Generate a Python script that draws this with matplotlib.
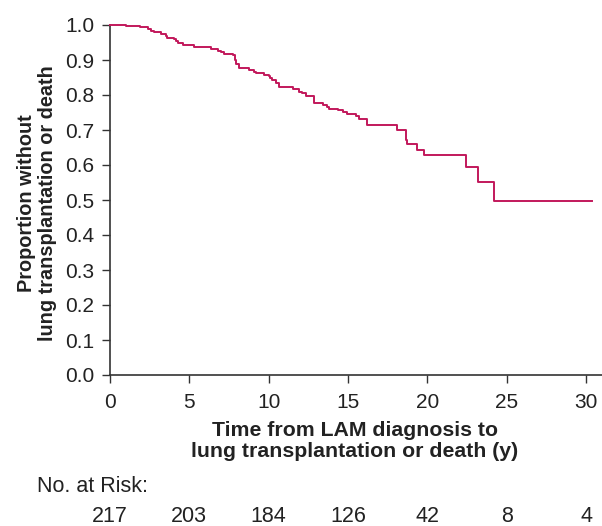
import matplotlib
matplotlib.use("Agg")
import matplotlib.pyplot as plt

plt.rcParams['font.family'] = ['Liberation Sans', 'DejaVu Sans']

# Kaplan-Meier step curve (time in years, survival proportion)
times = [0, 1.02, 1.86, 2.4, 2.6, 2.8, 3.2, 3.5, 3.6, 4.06, 4.16, 4.3, 4.58,
         5.3, 6.36, 6.8, 7.0, 7.2, 7.73, 7.85, 7.95, 8.15, 8.77, 9.1, 9.2,
         9.72, 10.0, 10.1, 10.2, 10.45, 10.66, 11.5, 11.9, 12.1, 12.34, 12.86,
         13.43, 13.7, 13.8, 14.39, 14.67, 14.96, 15.48, 15.7, 16.21, 18.1,
         18.63, 18.7, 19.36, 19.78, 22.4, 23.2, 24.18, 30.4]
surv = [1.0, 0.998, 0.993, 0.988, 0.983, 0.979, 0.974, 0.969, 0.964, 0.960,
        0.954, 0.949, 0.942, 0.937, 0.932, 0.927, 0.923, 0.918, 0.913, 0.900,
        0.889, 0.876, 0.872, 0.867, 0.862, 0.857, 0.853, 0.848, 0.843, 0.834,
        0.822, 0.817, 0.810, 0.805, 0.797, 0.778, 0.772, 0.767, 0.761, 0.756,
        0.751, 0.745, 0.740, 0.732, 0.713, 0.699, 0.672, 0.661, 0.644, 0.628,
        0.594, 0.551, 0.497, 0.497]

risk_times = [0, 5, 10, 15, 20, 25, 30]
risk_counts = [217, 203, 184, 126, 42, 8, 4]

yticks = [0.0, 0.1, 0.2, 0.3, 0.4, 0.5, 0.6, 0.7, 0.8, 0.9, 1.0]

W, H = 602, 526
fig = plt.figure(figsize=(W / 100, H / 100), dpi=100)
ax = fig.add_axes([110 / W, 1 - 375 / H, (W - 110) / W, 350 / H])

ax.step(times, surv, where='post', color='#c2185b', lw=1.4, clip_on=False, zorder=3)

ax.set_xlim(0, 31)
ax.set_ylim(0, 1.0)
ax.set_xticks(risk_times)
ax.set_yticks(yticks)
ax.set_yticklabels([f"{v:.1f}" for v in yticks])
for s in ['top', 'right']:
    ax.spines[s].set_visible(False)
for s in ['left', 'bottom']:
    ax.spines[s].set_linewidth(1.2)
    ax.spines[s].set_color('#333333')
ax.tick_params(axis='both', direction='out', length=5.8, width=1.0, color='#333333',
               labelsize=15, labelcolor='#222222')
ax.tick_params(axis='x', pad=7.5)
ax.tick_params(axis='y', pad=5.5)

ax.set_xlabel("Time from LAM diagnosis to\nlung transplantation or death (y)",
              fontsize=15.3, fontweight='bold', color='#222222',
              linespacing=1.15)
ax.xaxis.set_label_coords((355 - 110) / 492, (375 - 421) / 350)
ax.set_ylabel("Proportion without\nlung transplantation or death",
              fontsize=14.3, fontweight='bold', color='#222222',
              linespacing=1.1)
ax.yaxis.set_label_coords((57 - 110) / 492, (375 - 203) / 350)

fig.text(37 / W, 1 - 486 / H, "No. at Risk:", fontsize=15.5, color='#222222',
         va='center', ha='left')
for t, n in zip(risk_times, risk_counts):
    ax.annotate(str(n), xy=(t, 0), xycoords=('data', 'axes fraction'),
                xytext=(0, -(516 - 375)), textcoords='offset pixels',
                ha='center', va='center', fontsize=15.5, color='#222222',
                annotation_clip=False)

fig.savefig("out.png", dpi=100)
